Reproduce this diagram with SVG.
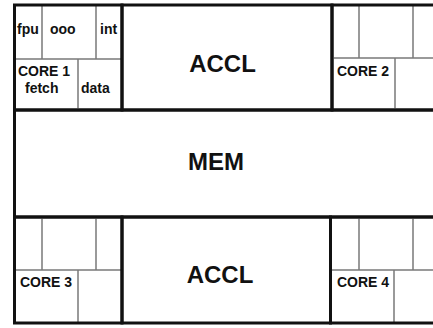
<svg xmlns="http://www.w3.org/2000/svg" width="433" height="328" viewBox="0 0 433 328">
<style>
.thick{fill:none;stroke:#111;stroke-width:3}
.thin{fill:none;stroke:#7a7a7a;stroke-width:1.5}
.s{font-family:"Liberation Sans",Arial,sans-serif;font-weight:bold;font-size:14px;fill:#111}
.b{font-family:"Liberation Sans",Arial,sans-serif;font-weight:bold;font-size:24px;fill:#111;text-anchor:middle}
</style>
<rect width="433" height="328" fill="#fff"/>
<g id="mem">
<rect class="thick" x="14.5" y="110" width="430" height="107"/>
<text class="b" x="216" y="170">MEM</text>
</g>
<g id="core1">
<path class="thin" d="M14.5 59H122M42 5V59M96 5V59M78 59V110"/>
<rect class="thick" x="14.5" y="5" width="107.5" height="105"/>
<text class="s" x="17" y="34">fpu</text>
<text class="s" x="50" y="34">ooo</text>
<text class="s" x="100" y="34">int</text>
<text class="s" x="18" y="75.5">CORE 1</text>
<text class="s" x="25" y="93">fetch</text>
<text class="s" x="81" y="93">data</text>
</g>
<g id="accl-top">
<rect class="thick" x="122" y="5" width="210" height="105"/>
<text class="b" x="222.5" y="72">ACCL</text>
</g>
<g id="core2">
<path class="thin" d="M332 58H440M359 5V58M413 5V58M395 58V110"/>
<rect class="thick" x="332" y="5" width="120" height="105"/>
<text class="s" x="337" y="76">CORE 2</text>
</g>
<g id="core3">
<path class="thin" d="M14.5 270H122M42 217V270M96 217V270M78 270V323"/>
<rect class="thick" x="14.5" y="217" width="107.5" height="106"/>
<text class="s" x="20" y="287">CORE 3</text>
</g>
<g id="accl-bottom">
<rect class="thick" x="122" y="217" width="208.5" height="106"/>
<text class="b" x="220" y="283">ACCL</text>
</g>
<g id="core4">
<path class="thin" d="M330.5 270H440M359 217V270M413 217V270M394 270V323"/>
<rect class="thick" x="330.5" y="217" width="120" height="106"/>
<text class="s" x="337" y="287">CORE 4</text>
</g>
<g id="connectors"/>
</svg>
